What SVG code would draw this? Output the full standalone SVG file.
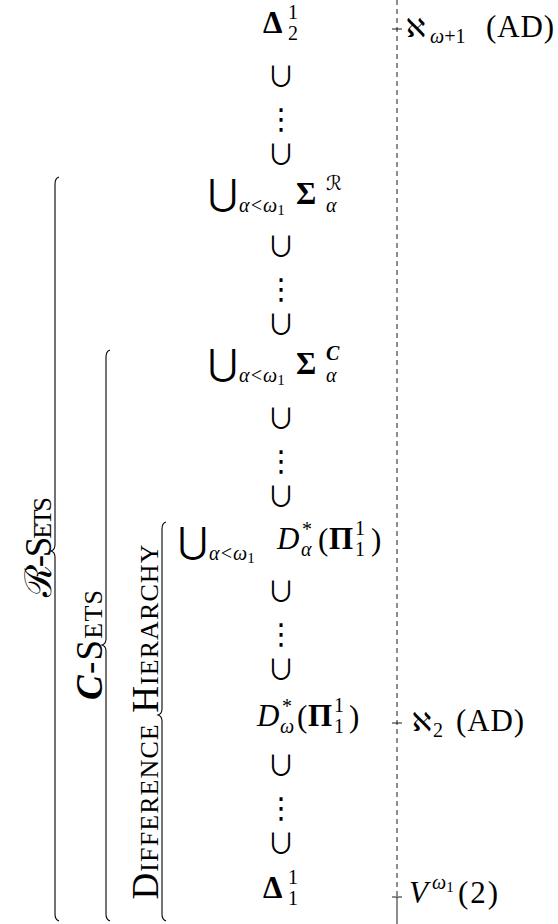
<svg xmlns="http://www.w3.org/2000/svg" width="558" height="924" viewBox="0 0 558 924">
<style>
text{font-family:"Liberation Serif","DejaVu Serif",serif;fill:#000}
.m{font-size:31px}
.s{font-size:20px}
.ss{font-size:15px}
.b{font-weight:bold}
.i{font-style:italic}
.bi{font-weight:bold;font-style:italic}
.sym{font-family:"DejaVu Sans",sans-serif}
.lib{font-family:"Liberation Serif",serif}
.chain{font-family:"Noto Sans CJK JP","DejaVu Sans",sans-serif;font-size:28px;text-anchor:middle}
.dots{font-family:"DejaVu Sans",sans-serif;font-size:29px}
.big{font-family:"DejaVu Sans",sans-serif;font-size:36px;text-anchor:middle}
.lab{font-size:37px;font-variant:small-caps;text-anchor:middle}
.br{fill:none;stroke:#000;stroke-width:1.1}
.ax{fill:none;stroke:#000;stroke-width:0.9}
</style>
<g id="connectors">
<line class="ax" x1="397" y1="0" x2="397" y2="897" stroke-dasharray="5,4"/>
<line class="ax" x1="397" y1="897" x2="397" y2="924"/>
<line class="ax" x1="392" y1="29" x2="402" y2="29"/>
<line class="ax" x1="392" y1="723" x2="402" y2="723"/>
<line class="ax" x1="392" y1="897" x2="402" y2="897"/>
</g>
<g id="n-delta12">
<text class="m b" x="263" y="33">Δ</text>
<text class="s" x="288" y="19">1</text>
<text class="s" x="288" y="40">2</text>
</g>
<g id="chain1">
<text class="chain"><tspan x="281" y="87">∪</tspan><tspan class="dots" x="281" y="129">⋮</tspan><tspan x="281" y="165">∪</tspan></text>
</g>
<g id="n-sigmaR">
<text class="big" x="223" y="205">⋃</text>
<text class="s i" x="239" y="212">α&lt;ω<tspan class="ss" font-style="normal" dy="3">1</tspan></text>
<text class="m b" x="296" y="204">Σ</text>
<text class="s sym" x="326" y="190">ℛ</text>
<text class="s i" x="326" y="212">α</text>
</g>
<g id="chain2">
<text class="chain"><tspan x="281" y="257">∪</tspan><tspan class="dots" x="281" y="299">⋮</tspan><tspan x="281" y="335">∪</tspan></text>
</g>
<g id="n-sigmaC">
<text class="big" x="223" y="375">⋃</text>
<text class="s i" x="239" y="382">α&lt;ω<tspan class="ss" font-style="normal" dy="3">1</tspan></text>
<text class="m b" x="296" y="374">Σ</text>
<text class="s bi" x="326" y="360">C</text>
<text class="s i" x="326" y="382">α</text>
</g>
<g id="chain3">
<text class="chain"><tspan x="281" y="429">∪</tspan><tspan class="dots" x="281" y="471">⋮</tspan><tspan x="281" y="507">∪</tspan></text>
</g>
<g id="n-Dalpha">
<text class="big" x="193" y="553">⋃</text>
<text class="s i" x="209" y="560">α&lt;ω<tspan class="ss" font-style="normal" dy="3">1</tspan></text>
<text class="m i" x="277" y="549">D</text>
<text class="s" x="302" y="536">*</text>
<text class="s i" x="301" y="556">α</text>
<text class="m" x="318" y="550">(</text>
<text class="m b" x="329" y="549">Π</text>
<text class="s" x="355" y="535">1</text>
<text class="s" x="355" y="556">1</text>
<text class="m" x="371" y="550">)</text>
</g>
<g id="chain4">
<text class="chain"><tspan x="281" y="602">∪</tspan><tspan class="dots" x="281" y="644">⋮</tspan><tspan x="281" y="680">∪</tspan></text>
</g>
<g id="n-Domega">
<text class="m i" x="257" y="726">D</text>
<text class="s" x="282" y="713">*</text>
<text class="s i" x="280" y="733">ω</text>
<text class="m" x="297" y="727">(</text>
<text class="m b" x="308" y="726">Π</text>
<text class="s" x="334" y="712">1</text>
<text class="s" x="334" y="733">1</text>
<text class="m" x="349" y="727">)</text>
</g>
<g id="chain5">
<text class="chain"><tspan x="281" y="776">∪</tspan><tspan class="dots" x="281" y="818">⋮</tspan><tspan x="281" y="854">∪</tspan></text>
</g>
<g id="n-delta11">
<text class="m b" x="263" y="898">Δ</text>
<text class="s" x="288" y="884">1</text>
<text class="s" x="288" y="905">1</text>
</g>
<g id="lab-aleph-omega1">
<text class="sym" x="406" y="37" font-size="26px">ℵ<tspan class="s lib" x="430" y="43"><tspan class="i">ω</tspan>+1</tspan></text>
<text class="m" x="486" y="37" textLength="68">(AD)</text>
</g>
<g id="lab-aleph2">
<text class="sym" x="412" y="731" font-size="26px">ℵ<tspan class="s lib" x="433" y="737">2</tspan></text>
<text class="m" x="456" y="731" textLength="68">(AD)</text>
</g>
<g id="lab-V">
<text class="m i" x="409" y="903">V<tspan class="s" x="432" y="889">ω</tspan><tspan class="ss" font-style="normal" dy="3">1</tspan></text>
<text class="m" x="458" y="903" textLength="40">(2)</text>
</g>
<g id="brace-R">
<path class="br" d="M59,177 C56,178 55,180 55,184 L55,545 C55,548 54,550 51,551 C54,552 55,554 55,557 L55,914 C55,918 56,920 59,921"/>
<text class="lab" transform="translate(51,547) rotate(-90)" textLength="100">ℛ-Sets</text>
</g>
<g id="brace-C">
<path class="br" d="M110,350 C107,351 106,353 106,357 L106,639 C106,642 105,644 102,645 C105,646 106,648 106,651 L106,914 C106,918 107,920 110,921"/>
<text class="lab" transform="translate(102,645) rotate(-90)" textLength="110"><tspan class="bi">C</tspan>-Sets</text>
</g>
<g id="brace-D">
<path class="br" d="M166,522 C163,523 162,525 162,529 L162,709 C162,712 161,714 158,715 C161,716 162,718 162,721 L162,914 C162,918 163,920 166,921"/>
<text class="lab" transform="translate(158,722) rotate(-90)" textLength="355">Difference Hierarchy</text>
</g>
</svg>
